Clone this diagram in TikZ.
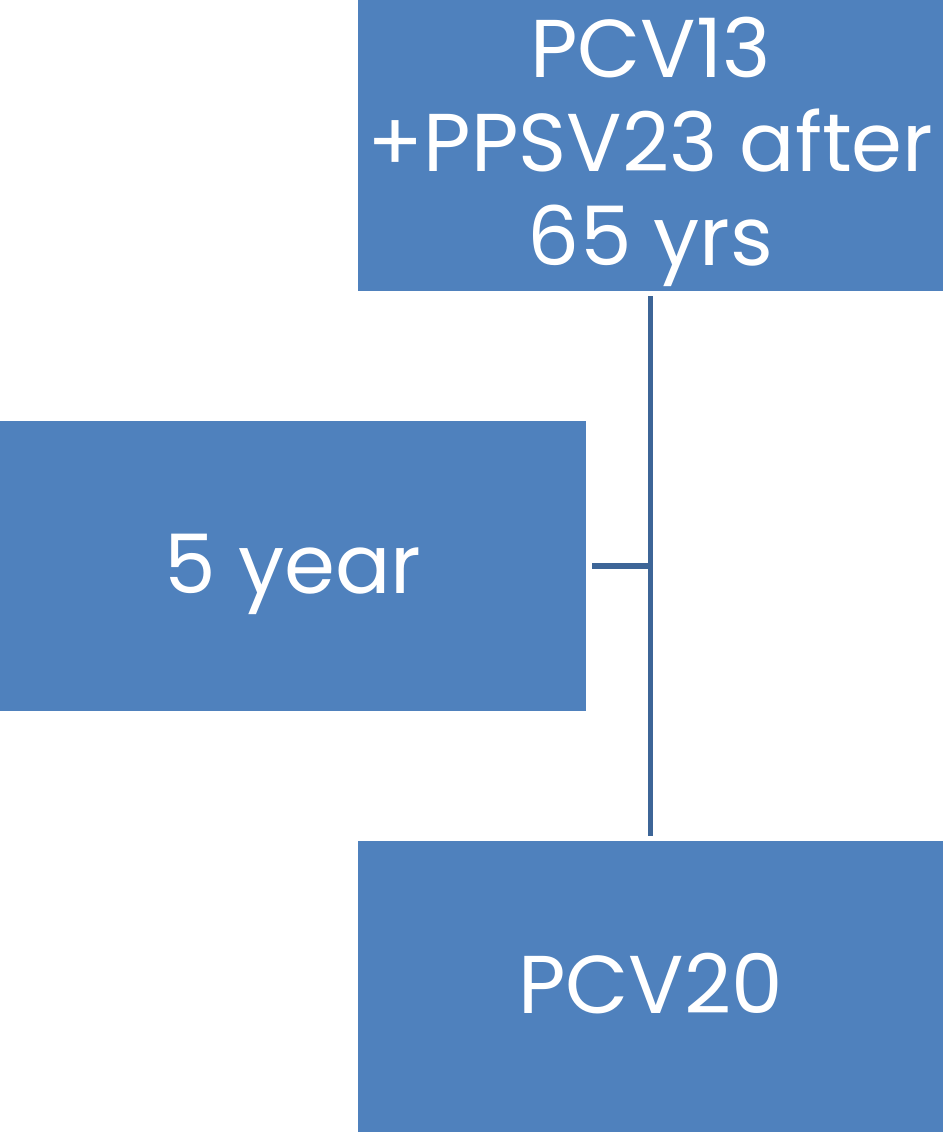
\documentclass[tikz,border=0pt]{standalone}
\usepackage{fontspec}
\setmainfont{Poppins}
\definecolor{boxblue}{HTML}{4F81BD}
\definecolor{linkblue}{HTML}{3D6597}
\begin{document}
\begin{tikzpicture}[x=1pt,y=-1pt,
  block/.style={fill=boxblue, draw=none, inner sep=0pt},
  caption/.style={text=white, inner sep=0pt, align=center,
    font=\fontsize{82}{94}\selectfont},
  oneline/.style={caption, text height=54pt, text depth=0pt},
  link/.style={draw=linkblue, line width=5.5pt}]
\useasboundingbox (0,0) rectangle (943,1132);
\node[block, minimum width=585pt, minimum height=291pt,
  label={[caption, yshift=-6pt]center:{PCV13\\+PPSV23 after\\65 yrs}}]
  (start) at (650.5,145.5) {};
\node[block, minimum width=586pt, minimum height=290pt,
  label={[oneline]center:{5 year}}] (gap) at (293,566) {};
\node[block, minimum width=585pt, minimum height=291pt,
  label={[oneline]center:{PCV20}}] (next) at (650.5,986.5) {};
\draw[link] ([yshift=-5pt]start.south) -- ([yshift=5pt]next.north);
\draw[link] ([xshift=6pt]gap.east) -- (gap.east -| start.south);
\end{tikzpicture}
\end{document}
